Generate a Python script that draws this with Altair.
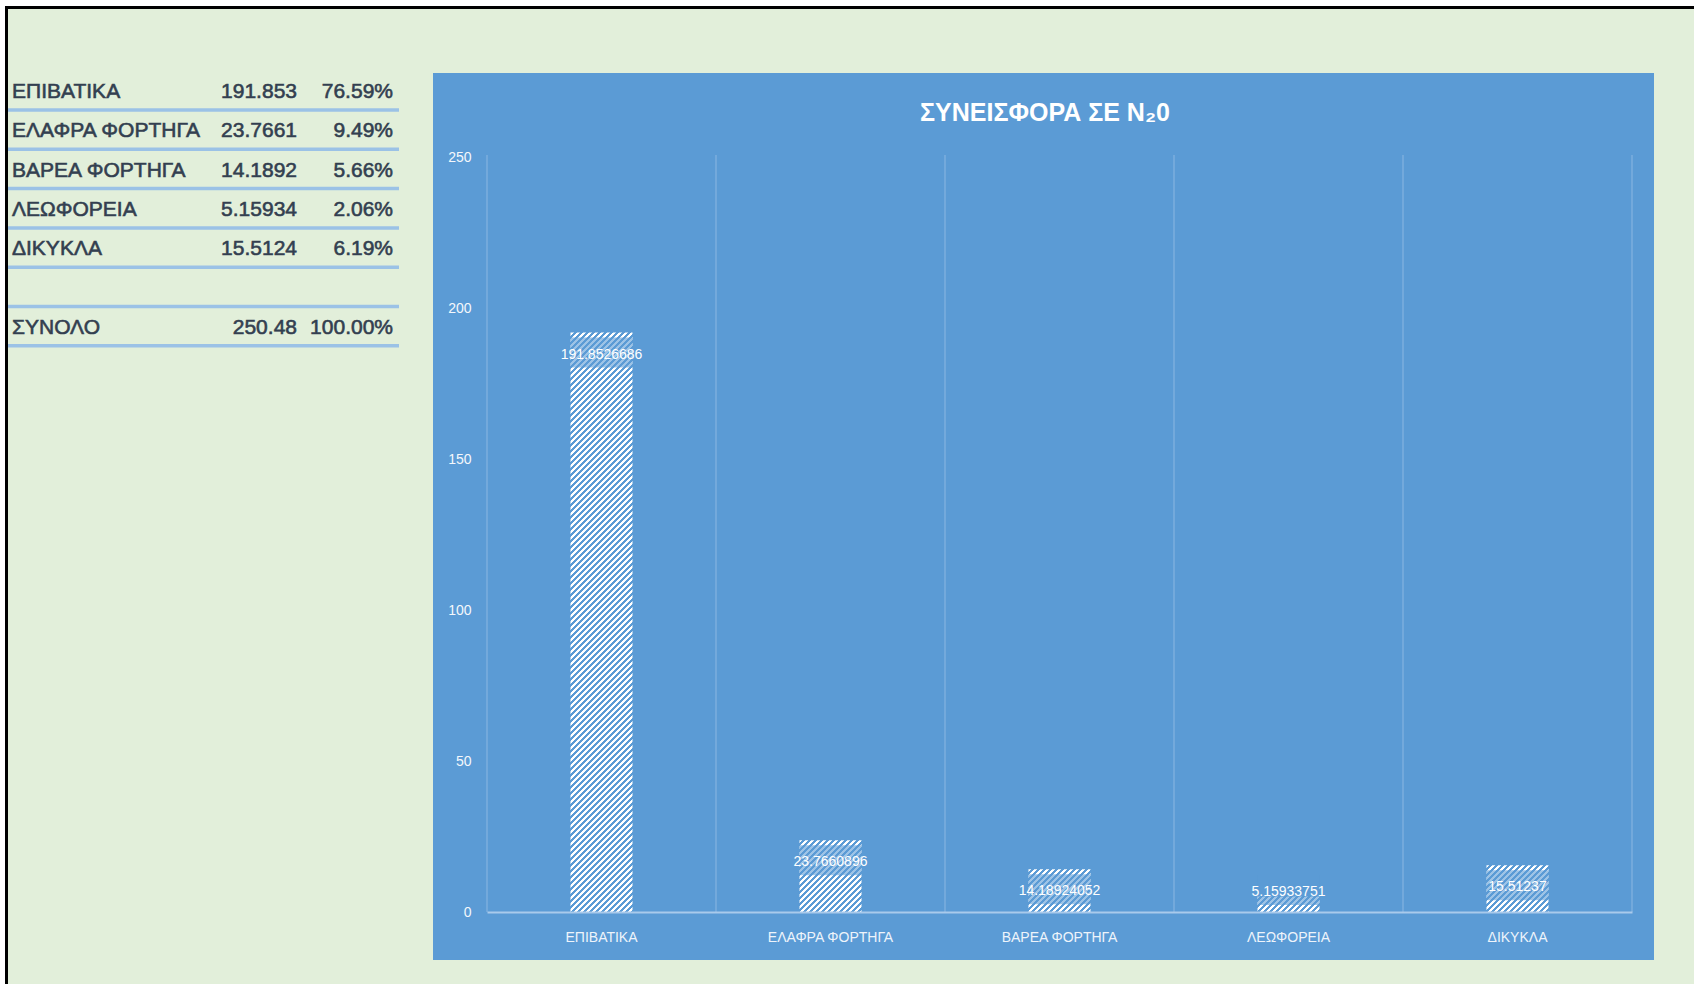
import altair as alt

# ---------------- data ----------------
categories = ["ΕΠΙΒΑΤΙΚΑ", "ΕΛΑΦΡΑ ΦΟΡΤΗΓΑ", "ΒΑΡΕΑ ΦΟΡΤΗΓΑ", "ΛΕΩΦΟΡΕΙΑ", "ΔΙΚΥΚΛΑ"]
values = [191.8526686, 23.7660896, 14.18924052, 5.15933751, 15.51237]
bar_labels = ["191.8526686", "23.7660896", "14.18924052", "5.15933751", "15.51237"]
table_values = ["191.853", "23.7661", "14.1892", "5.15934", "15.5124"]
table_pcts = ["76.59%", "9.49%", "5.66%", "2.06%", "6.19%"]
total_name = "ΣΥΝΟΛΟ"
total_value = "250.48"
total_pct = "100.00%"
y_ticks = [0, 50, 100, 150, 200, 250]
y_max = 250
title_text = "ΣΥΝΕΙΣΦΟΡΑ ΣΕ N₂0"

# ---------------- layout / style ----------------
PL, PT = 487, 157          # plot-area origin on the page
W, H = 1145, 755           # plot area
FULL_W, FULL_H = 1694, 984
BAR_W = 62
BLUE = "#5B9BD5"
GREEN = "#E2EFDA"
GRID = "#8CB7E2"
TEXT = "#333F50"
LINE = "#9BC2E6"
SANS = "Liberation Sans, Arial, sans-serif"


def px(x):
    return x - PL


def py(y):
    return y - PT


def hatch(v, period=6.0):
    """Diagonal white hatching as an SVG objectBoundingBox gradient."""
    h = v / y_max * H
    w = float(BAR_W)
    L = w + h
    k = L / (w * w + h * h)
    stops = []
    s, i = 0.0, 0
    while s < L - 1e-9:
        e = min(s + period / 2.0, L)
        col = "#FFFFFF" if i % 2 == 0 else BLUE
        stops.append({"offset": s / L, "color": col})
        stops.append({"offset": e / L, "color": col})
        s, i = e, i + 1
    return {"gradient": "linear", "x1": 0, "y1": 0, "x2": w * k, "y2": h * k, "stops": stops}


records = [
    {"cat": c, "v": v, "label": l, "grad": hatch(v)}
    for c, v, l in zip(categories, values, bar_labels)
]

table_rows = [
    {"row": i, "name": categories[i], "val": table_values[i], "pct": table_pcts[i]}
    for i in range(len(categories))
]
table_rows.append({"row": 5, "name": "", "val": "", "pct": ""})
table_rows.append({"row": 6, "name": total_name, "val": total_value, "pct": total_pct})

one = alt.Data(values=[{}])


def rect(x1, x2, y1, y2, color):
    return alt.Chart(one).mark_rect(color=color).encode(
        x=alt.value(px(x1)), x2=alt.value(px(x2)),
        y=alt.value(py(y1)), y2=alt.value(py(y2)),
    )


# ---------------- background ----------------
bg_green = rect(5, FULL_W, 6, FULL_H, GREEN)
border_top = rect(5, FULL_W, 6, 9, "#000000")
border_left = rect(5, 8, 6, FULL_H, "#000000")
panel = rect(433, 1654, 73, 960, BLUE)

title = alt.Chart(one).mark_text(
    font=SANS, fontSize=25, fontWeight="bold", color="white",
    align="center", baseline="middle",
).encode(x=alt.value(px(1045)), y=alt.value(py(113)), text=alt.value(title_text))

# ---------------- bar chart ----------------
xscale = alt.Scale(domain=categories, paddingInner=0, paddingOuter=0)
yscale = alt.Scale(domain=[0, y_max], nice=False, zero=True)

base = alt.Chart(alt.Data(values=records))

bars = base.mark_bar(width=BAR_W).encode(
    x=alt.X("cat:N", scale=xscale, sort=categories,
            axis=alt.Axis(title=None, ticks=False, grid=False, labelAngle=0,
                          labelAlign="center", labelBaseline="top",
                          labelPadding=18, labelFontSize=14, labelFont=SANS,
                          labelColor="#EEF4FB", domainColor="#A9CAEB", domainWidth=2,
                          zindex=1)),
    y=alt.Y("v:Q", scale=yscale,
            axis=alt.Axis(title=None, values=y_ticks, grid=False, ticks=False,
                          domain=False, labelPadding=16, labelFontSize=14,
                          labelFont=SANS, labelColor="#F4F8FC", zindex=1)),
    fill=alt.Fill("grad:N", scale=None, legend=None),
)

grid_rules = alt.Chart(alt.Data(values=[{"cat": c} for c in categories])).mark_rule(
    color=GRID, strokeWidth=1
).encode(
    x=alt.X("cat:N", scale=xscale, sort=categories, bandPosition=0),
    y=alt.value(-2), y2=alt.value(H),
)
last_rule = alt.Chart(one).mark_rule(color=GRID, strokeWidth=1).encode(
    x=alt.value(W), y=alt.value(-2), y2=alt.value(H)
)

u = y_max / H  # data units per pixel
calc_lab = f"max(datum.v - {22 * u}, {20 * u})"
calc_box = f"max(datum.v - {22 * u}, {20 * u}) + {2 * u}"

boxes = base.transform_calculate(box=calc_box).mark_tick(
    color=BLUE, opacity=0.6, thickness=30, size=BAR_W
).encode(
    x=alt.X("cat:N", scale=xscale, sort=categories),
    y=alt.Y("box:Q", scale=yscale),
)

labels = base.transform_calculate(lab=calc_lab).mark_text(
    font=SANS, fontSize=14, color="white", baseline="middle", align="center"
).encode(
    x=alt.X("cat:N", scale=xscale, sort=categories),
    y=alt.Y("lab:Q", scale=yscale),
    text="label:N",
)

chart_layer = alt.layer(grid_rules, last_rule, bars, boxes, labels)

# ---------------- table ----------------
tscale = alt.Scale(domain=[0, 6], range=[py(92), py(327.8)], nice=False, zero=False)
tbase = alt.Chart(alt.Data(values=table_rows))
tstyle = dict(baseline="middle", font=SANS, fontSize=21, color=TEXT,
              stroke=TEXT, strokeWidth=0.6)

t_lines = tbase.transform_calculate(line="datum.row + 0.458").mark_rule(
    color=LINE, strokeWidth=3.5
).encode(
    x=alt.value(px(5)), x2=alt.value(px(399)),
    y=alt.Y("line:Q", scale=tscale, axis=None),
)
t_name = tbase.mark_text(align="left", **tstyle).encode(
    x=alt.value(px(12)), y=alt.Y("row:Q", scale=tscale, axis=None), text="name:N"
)
t_val = tbase.mark_text(align="right", **tstyle).encode(
    x=alt.value(px(297)), y=alt.Y("row:Q", scale=tscale, axis=None), text="val:N"
)
t_pct = tbase.mark_text(align="right", **tstyle).encode(
    x=alt.value(px(393)), y=alt.Y("row:Q", scale=tscale, axis=None), text="pct:N"
)
table_layer = alt.layer(t_lines, t_name, t_val, t_pct)

chart = alt.layer(
    bg_green, panel, title, chart_layer, table_layer, border_top, border_left
).resolve_scale(
    x="independent", y="independent"
).properties(
    width=W, height=H,
    padding={"left": PL, "top": PT, "right": FULL_W - PL - W, "bottom": FULL_H - PT - H},
    autosize=alt.AutoSizeParams(type="none"),
).configure(background="white").configure_view(stroke=None)

chart.save("out.html", embed_options={"renderer": "svg", "actions": False})
